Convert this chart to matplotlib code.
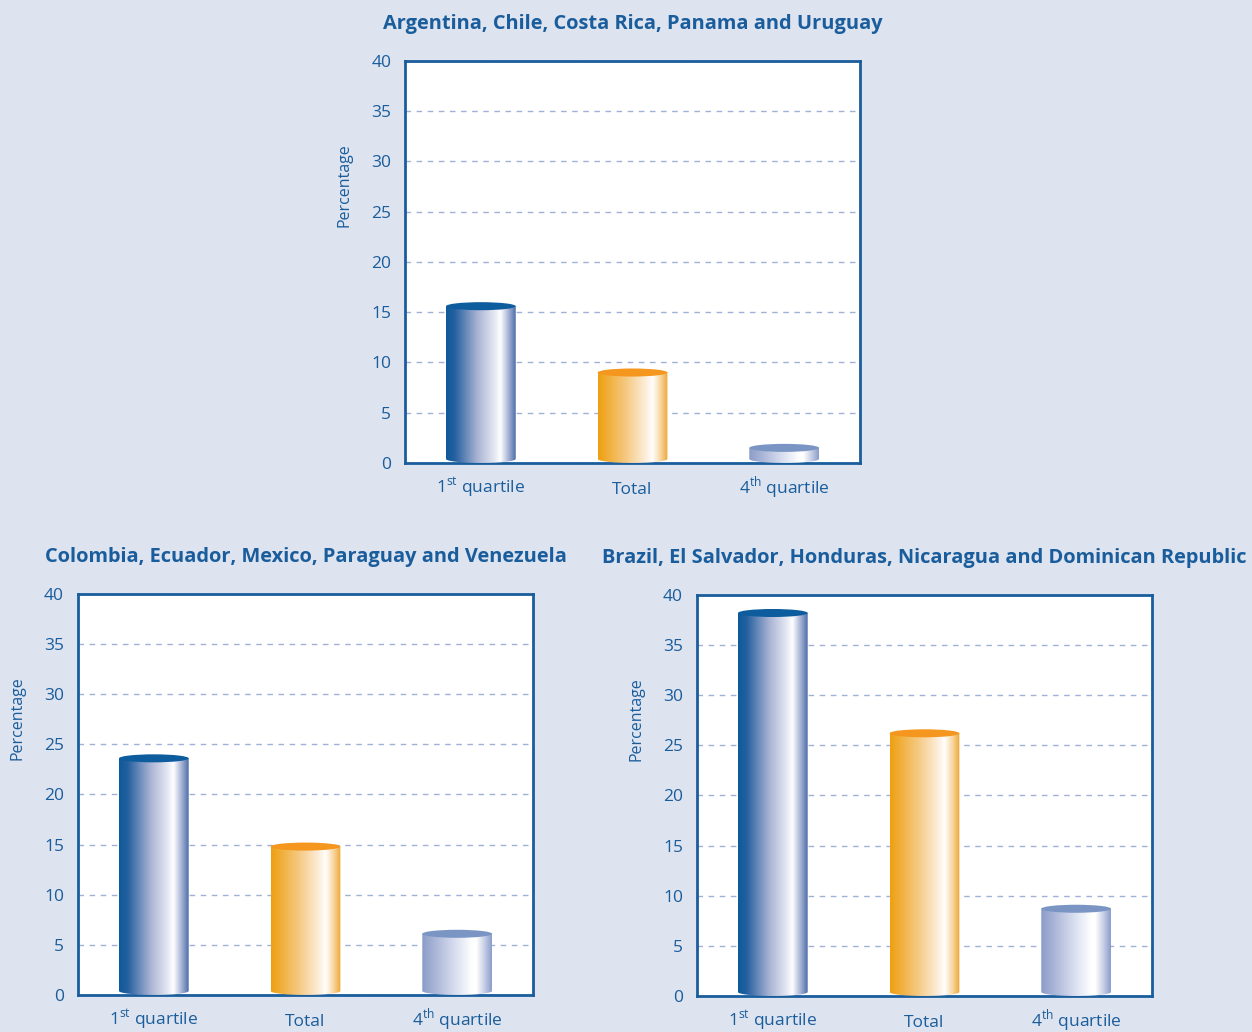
import numpy as np
import matplotlib
matplotlib.use("Agg")
import matplotlib.pyplot as plt
from matplotlib.colors import LinearSegmentedColormap
from matplotlib.patches import Ellipse, PathPatch
from matplotlib.path import Path

# Share of households by income quartile, three country groups
titles = [
    "Argentina, Chile, Costa Rica, Panama and Uruguay",
    "Colombia, Ecuador, Mexico, Paraguay and Venezuela",
    "Brazil, El Salvador, Honduras, Nicaragua and Dominican Republic",
]
categories = [r"1$^{\mathrm{st}}$ quartile", "Total", r"4$^{\mathrm{th}}$ quartile"]
values_southern = [15.6, 9.0, 1.5]
values_andean = [23.6, 14.8, 6.1]
values_central = [38.2, 26.2, 8.7]
y_ticks = [0, 5, 10, 15, 20, 25, 30, 35, 40]

BG = "#dde3ef"
DARK = "#1a5d9c"
GRID = "#9fb2d6"

plt.rcParams["font.family"] = ["Open Sans", "DejaVu Sans"]
plt.rcParams["mathtext.fontset"] = "custom"
plt.rcParams["mathtext.rm"] = "Open Sans"

# cylinder shading: (gradient stops, cap colour)
styles = [
    ([(0.0, "#0b5a9c"), (0.12, "#245f9f"), (0.45, "#a9b3d3"), (0.7, "#e6e9f3"),
      (0.78, "#ffffff"), (0.88, "#b3bddb"), (1.0, "#4b6ea8")], "#0d5c9e"),
    ([(0.0, "#ee9f10"), (0.4, "#f5c982"), (0.7, "#fdf0df"), (0.78, "#ffffff"),
      (0.9, "#f7d59c"), (1.0, "#eea634")], "#f5961e"),
    ([(0.0, "#8b9cc8"), (0.45, "#d5dbee"), (0.72, "#ffffff"), (0.78, "#ffffff"),
      (0.9, "#c4cce5"), (1.0, "#8b9cc8")], "#7a95c4"),
]


def draw_cylinder(ax, x, value, width, stops, cap_color, e=0.4):
    cmap = LinearSegmentedColormap.from_list("cyl", stops)
    left, right = x - width / 2, x + width / 2
    # body: rectangle with rounded bottom
    t = np.linspace(np.pi, 2 * np.pi, 40)
    bottom = np.column_stack([x + width / 2 * np.cos(t), e + e * np.sin(t)])
    verts = np.vstack([[[left, value]], bottom, [[right, value]], [[left, value]]])
    clip = PathPatch(Path(verts, closed=True), facecolor="none", edgecolor="none",
                     transform=ax.transData)
    ax.add_patch(clip)
    grad = np.linspace(0, 1, 256).reshape(1, -1)
    im = ax.imshow(grad, cmap=cmap, aspect="auto", extent=[left, right, 0, value],
                   interpolation="bicubic", zorder=3)
    im.set_clip_path(clip)
    ax.add_patch(Ellipse((x, value), width, 2 * e, facecolor=cap_color,
                         edgecolor="none", zorder=4))


def draw_panel(ax, title, values):
    ax.set_facecolor("white")
    for i, v in enumerate(values):
        stops, cap = styles[i]
        draw_cylinder(ax, i, v, 0.46, stops, cap)
    ax.set_xlim(-0.5, 2.5)
    ax.set_ylim(0, 40)
    ax.set_yticks(y_ticks)
    ax.set_xticks(range(len(categories)))
    ax.set_xticklabels(categories, va="baseline")
    ax.tick_params(length=0, colors=DARK, labelsize=12.5)
    ax.tick_params(axis="x", pad=22)
    ax.tick_params(axis="y", pad=10)
    for s in ax.spines.values():
        s.set_color(DARK)
        s.set_linewidth(2)
    ax.yaxis.grid(True, linestyle=(0, (4, 4)), color=GRID, linewidth=1)
    ax.set_axisbelow(True)
    ax.set_ylabel("Percentage", color=DARK, fontsize=11.5)
    ax.yaxis.set_label_coords(-0.115, 0.69)
    ax.set_title(title, color=DARK, fontsize=14.4, fontweight="bold", pad=23)


fig = plt.figure(figsize=(12.52, 10.32), dpi=100, facecolor=BG)
ax1 = fig.add_axes([0.3235, 0.5514, 0.3634, 0.3895])
ax2 = fig.add_axes([0.0623, 0.0359, 0.3634, 0.3886])
ax3 = fig.add_axes([0.5567, 0.0349, 0.3634, 0.3886])

draw_panel(ax1, titles[0], values_southern)
draw_panel(ax2, titles[1], values_andean)
draw_panel(ax3, titles[2], values_central)

fig.savefig("out.png", dpi=100, facecolor=BG)
